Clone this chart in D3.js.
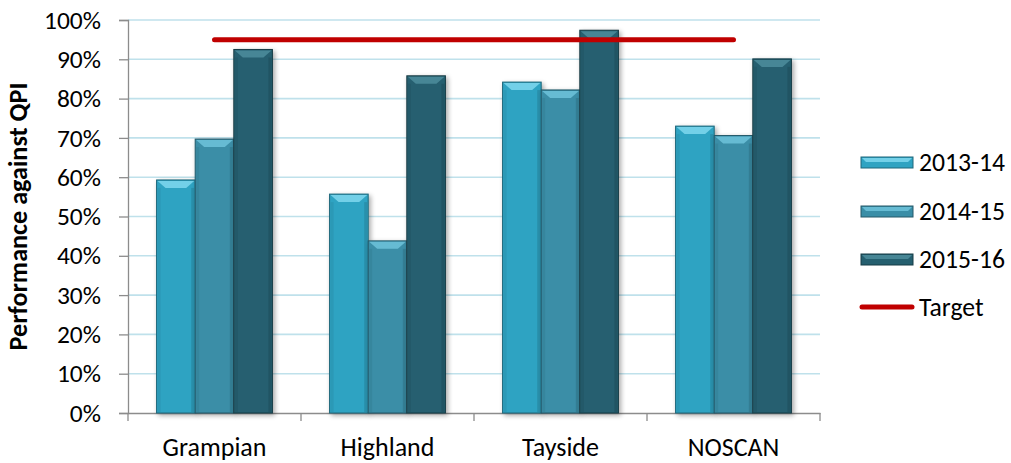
<!DOCTYPE html>
<html><head><meta charset="utf-8">
<script src="https://cdn.jsdelivr.net/npm/d3@7"></script>
<style>body{margin:0;background:#fff;} svg{display:block;font-family:Carlito,Calibri,Lato,"Open Sans",sans-serif;}</style>
</head><body>
<svg id="c" width="1011" height="463"></svg>
<script>
const categories = ["Grampian","Highland","Tayside","NOSCAN"];
const seriesNames = ["2013-14","2014-15","2015-16"];
const v2013 = [59.3, 55.7, 84.2, 73.0];
const v2014 = [69.7, 43.8, 82.2, 70.6];
const v2015 = [92.5, 85.8, 97.4, 90.1];
const target = 95;
const yTicks = [0,10,20,30,40,50,60,70,80,90,100];
const seriesValues = [v2013, v2014, v2015];
const colors = ["#2FA3C2", "#3A8EA7", "#255F6F"];
const tops = ["#7FD8EE", "#6FC3DA", "#4E8D9C"];

const svg = d3.select("#c");
const m = {l:128, r:191, t:20, b:50};
const W = 1011, H = 463;
const x = d3.scaleBand().domain(categories).range([m.l, W - m.r]).paddingInner(0).paddingOuter(0);
const xs = d3.scaleBand().domain(seriesNames).range([0, x.bandwidth()]).paddingOuter(0.74).paddingInner(0);
const y = d3.scaleLinear().domain([0,100]).range([H - m.b, m.t]);

function fitSize(sample, targetW, weight) {
  const t = svg.append("text").attr("font-size",20).attr("font-weight",weight||"normal").text(sample);
  const w = t.node().getComputedTextLength();
  t.remove();
  return 20 * targetW / w;
}
const fsTick = fitSize("100%", 57);
const fsCat = fitSize("Grampian", 104);
const fsLeg = fitSize("2013-14", 86);
const fsTitle = fitSize("Performance against QPI", 268, "bold");

const defs = svg.append("defs");
const f = defs.append("filter").attr("id","sh").attr("x","-20%").attr("y","-20%").attr("width","150%").attr("height","140%");
f.append("feGaussianBlur").attr("in","SourceAlpha").attr("stdDeviation",2.5);
f.append("feOffset").attr("dx",2).attr("dy",2).attr("result","b");
f.append("feComponentTransfer").append("feFuncA").attr("type","linear").attr("slope",0.35);
const fm = f.append("feMerge"); fm.append("feMergeNode"); fm.append("feMergeNode").attr("in","SourceGraphic");

// gridlines
svg.append("g").selectAll("line").data(yTicks.filter(d=>d>0)).join("line")
  .attr("x1", m.l).attr("x2", W - m.r).attr("y1", d=>y(d)).attr("y2", d=>y(d))
  .attr("stroke","#BFE1EB").attr("stroke-width",1.6);

// y axis
const ya = svg.append("g").attr("transform",`translate(${m.l},0)`)
  .call(d3.axisLeft(y).tickValues(yTicks).tickFormat(d=>d+"%").tickSize(9).tickPadding(18));
ya.select(".domain").attr("stroke","#8c8c8c").attr("stroke-width",1.3);
ya.selectAll(".tick line").attr("stroke","#8c8c8c").attr("stroke-width",1.3);
ya.selectAll("text").attr("font-size",fsTick).attr("fill","#000");

// x axis
const xa = svg.append("g").attr("transform",`translate(0,${y(0)})`)
  .call(d3.axisBottom(x).tickSize(0).tickPadding(25));
xa.select(".domain").attr("stroke","#8c8c8c").attr("stroke-width",1.3);
xa.selectAll("text").attr("font-size",fsCat).attr("fill","#000");
const bounds = categories.map(c=>x(c)).concat([x(categories[categories.length-1]) + x.bandwidth()]);
xa.selectAll(".bt").data(bounds).join("line").attr("class","bt")
  .attr("x1",d=>d).attr("x2",d=>d).attr("y1",0).attr("y2",8).attr("stroke","#8c8c8c").attr("stroke-width",1.3);
svg.selectAll("g").attr("font-family",null);

// bars
const bars = svg.append("g");
seriesNames.forEach((s, si) => {
  const g = bars.append("g");
  categories.forEach((c, ci) => {
    const val = seriesValues[si][ci];
    const bx = x(c) + xs(s), bw = xs.bandwidth();
    const by = y(val), bh = y(0) - y(val);
    const bg = g.append("g");
    bg.append("rect").attr("x",bx).attr("y",by).attr("width",bw).attr("height",bh)
      .attr("fill",colors[si]).attr("stroke",d3.color(colors[si]).darker(1.3)).attr("stroke-width",1)
      .attr("filter","url(#sh)");
    const bev = 8;
    bg.append("path").attr("d",`M${bx+1},${by+1} L${bx+bw-1},${by+1} L${bx+bw-1-bev},${by+bev} L${bx+1+bev},${by+bev} Z`)
      .attr("fill",tops[si]).attr("opacity",0.85);
    bg.append("rect").attr("x",bx+1).attr("y",by+bev).attr("width",3).attr("height",Math.max(0,bh-bev-1)).attr("fill",d3.color(colors[si]).darker(0.3)).attr("opacity",0.6);
    bg.append("rect").attr("x",bx+bw-4).attr("y",by+bev).attr("width",3).attr("height",Math.max(0,bh-bev-1)).attr("fill",d3.color(colors[si]).darker(0.6)).attr("opacity",0.6);
  });
});

// target line
const tx1 = x(categories[0]) + x.bandwidth()/2, tx2 = x(categories[categories.length-1]) + x.bandwidth()/2;
svg.append("line").attr("x1",tx1).attr("x2",tx2).attr("y1",y(target)).attr("y2",y(target))
  .attr("stroke","#C00000").attr("stroke-width",5).attr("stroke-linecap","round");

// y title
svg.append("text").attr("transform",`translate(27,${(y(0)+y(100))/2}) rotate(-90)`)
  .attr("text-anchor","middle").attr("font-size",fsTitle).attr("font-weight","bold").text("Performance against QPI");

// legend
const lg = svg.append("g");
const ly = [162, 211, 259, 307];
seriesNames.forEach((s, i) => {
  lg.append("rect").attr("x",861).attr("y",ly[i]-5).attr("width",52).attr("height",11)
    .attr("fill",colors[i]).attr("stroke",d3.color(colors[i]).darker(1.3)).attr("stroke-width",1);
  lg.append("path").attr("d",`M862,${ly[i]-4} L912,${ly[i]-4} L908,${ly[i]} L866,${ly[i]} Z`).attr("fill",tops[i]).attr("opacity",0.85);
  lg.append("text").attr("x",919).attr("y",ly[i]).attr("dy","0.35em").attr("font-size",fsLeg).text(s);
});
lg.append("line").attr("x1",862).attr("x2",912).attr("y1",ly[3]).attr("y2",ly[3])
  .attr("stroke","#C00000").attr("stroke-width",5).attr("stroke-linecap","round");
lg.append("text").attr("x",919).attr("y",ly[3]).attr("dy","0.35em").attr("font-size",fsLeg).text("Target");
</script>
</body></html>
